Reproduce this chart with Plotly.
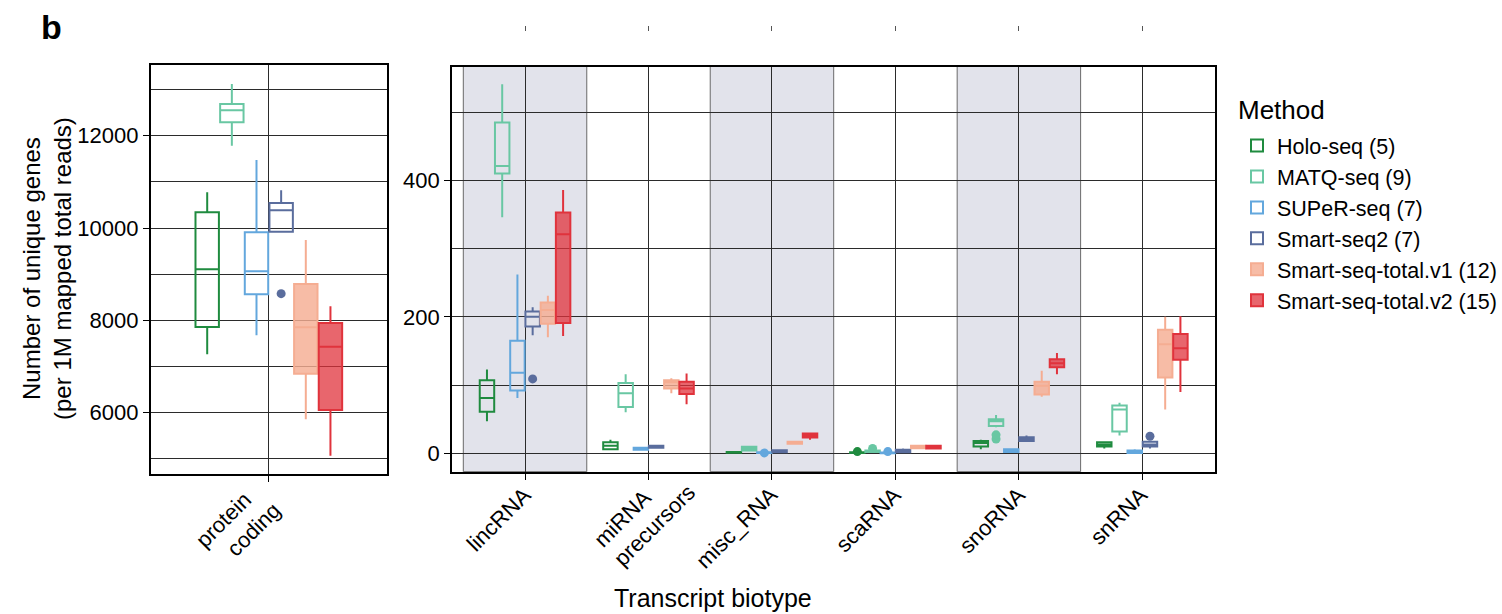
import plotly.graph_objects as go

W, H = 1502, 614

methods = ["Holo-seq (5)", "MATQ-seq (9)", "SUPeR-seq (7)", "Smart-seq2 (7)",
           "Smart-seq-total.v1 (12)", "Smart-seq-total.v2 (15)"]
line_colors = ["#1f8b3f", "#69c7a3", "#63a7dd", "#5a6d9d", "#f5ad92", "#e0333c"]
fill_colors = ["rgba(255,255,255,0)", "rgba(255,255,255,0)", "rgba(255,255,255,0)",
               "rgba(255,255,255,0)", "rgba(245,173,146,0.82)", "rgba(224,51,60,0.75)"]

protein_label = "protein<br>coding"
biotypes = ["lincRNA", "miRNA<br>precursors", "misc_RNA", "scaRNA", "snoRNA", "snRNA"]

# (lower whisker, Q1, median, Q3, upper whisker)
holo_protein = (7265, 7856, 9106, 10341, 10774)
matq_protein = (11783, 12290, 12550, 12687, 13120)
super_protein = (7677, 8565, 9063, 9907, 11474)
smart2_protein = (9900, 9921, 10384, 10542, 10817)
v1_protein = (5857, 6845, 7850, 8788, 9741)
v2_protein = (5069, 6059, 7430, 7943, 8305)

# per biotype in order of `biotypes`
holo_bio = [(47, 61, 81, 107, 123), (5, 6, 11, 16, 20), (0.5, 0.8, 1.2, 1.8, 2.2),
            (0, 0.5, 1, 1.5, 2), (6, 10, 15, 18, 20), (7, 10, 13, 16, 16)]
matq_bio = [(346, 410, 421, 485, 541), (60, 68, 88, 103, 116), (3, 4, 7, 9.5, 10),
            (1, 2, 3, 4, 5), (38, 40, 47, 50, 56), (26, 32, 64, 70, 74)]
super_bio = [(81, 92, 118, 165, 262), (5, 5, 7, 8, 8), (0, 0.5, 1, 1.5, 2),
             (0, 0, 0.5, 1, 1.5), (1.5, 2, 4, 6, 7), (0, 0.5, 2, 4, 6)]
smart2_bio = [(173, 186, 200, 208, 214), (7, 8, 10, 11, 12), (1, 1.5, 3, 4.5, 5),
              (1, 1.5, 3.5, 5, 7), (17, 18, 21, 23.5, 26), (7, 10, 13, 17, 17)]
v1_bio = [(170, 190, 210, 221, 231), (88, 95, 104, 107, 110), (14, 14, 15.5, 17, 17.5),
          (7, 7.5, 9.5, 11, 11.5), (83, 86, 99, 105, 121), (64, 111, 160, 181, 200)]
v2_bio = [(172, 191, 321, 353, 386), (72, 87, 95, 105, 117), (20, 23, 26, 29, 30),
          (7, 7, 9, 11, 11), (116, 126, 132, 138, 147), (90, 137, 154, 175, 201)]

# outlier points: (category, value)
holo_out = [("scaRNA", 2.5)]
matq_out = [("scaRNA", 7), ("snoRNA", 21), ("snoRNA", 27)]
super_out = [("misc_RNA", 0.5), ("scaRNA", 2.5)]
smart2_out = [(protein_label, 8578), ("lincRNA", 109), ("snRNA", 25)]
v1_out = []
v2_out = []

protein_stats = [holo_protein, matq_protein, super_protein, smart2_protein, v1_protein, v2_protein]
bio_stats = [holo_bio, matq_bio, super_bio, smart2_bio, v1_bio, v2_bio]
outliers = [holo_out, matq_out, super_out, smart2_out, v1_out, v2_out]

FONT = "Liberation Sans, Arial, Helvetica, sans-serif"

fig = go.Figure()


def add_box(m, cats, stats, xa, ya, legend):
    fig.add_trace(go.Box(
        x=cats,
        lowerfence=[s[0] for s in stats], q1=[s[1] for s in stats],
        median=[s[2] for s in stats], q3=[s[3] for s in stats],
        upperfence=[s[4] for s in stats],
        name=methods[m], legendgroup=methods[m], offsetgroup=methods[m],
        showlegend=legend, boxpoints=False,
        line=dict(color=line_colors[m], width=2), fillcolor=fill_colors[m],
        whiskerwidth=0, xaxis=xa, yaxis=ya))


for m in range(len(methods)):
    add_box(m, biotypes, bio_stats[m], "x2", "y2", True)
for m in range(len(methods)):
    add_box(m, [protein_label], [protein_stats[m]], "x", "y", False)

for m in range(len(methods)):
    for panel, (xa, ya) in (("left", ("x", "y")), ("right", ("x2", "y2"))):
        pts = [(c, v) for c, v in outliers[m] if (c == protein_label) == (panel == "left")]
        if not pts:
            continue
        fig.add_trace(go.Box(
            x=[c for c, _ in pts], y=[v for _, v in pts],
            name=methods[m], legendgroup=methods[m], offsetgroup=methods[m],
            showlegend=False, boxpoints="all", jitter=0, pointpos=0,
            line=dict(width=0, color=line_colors[m]), fillcolor="rgba(0,0,0,0)",
            marker=dict(color=line_colors[m], size=9),
            xaxis=xa, yaxis=ya))

# dummy trace so the stray top tick axis is drawn
fig.add_trace(go.Scatter(x=[None], y=[None], xaxis="x3", yaxis="y2",
                         showlegend=False, hoverinfo="skip"))

# alternating shaded bands
for i, _ in enumerate(biotypes):
    if i % 2 == 0:
        fig.add_shape(type="rect", xref="x2", yref="y2 domain", x0=i - 0.5, x1=i + 0.5,
                      y0=0, y1=1, fillcolor="#e2e3eb", line=dict(color="#6a6a6a", width=1),
                      layer="below")


def px_x(p):
    return p / W


def px_y(p):
    return 1 - p / H


# rotated category labels (each line as its own annotation, end of line near tick)
# offsets: (dx from tick in px, y of the line end in px)
default_line_end = [(4, 489)]
line_ends = {
    protein_label: [(-19, 494), (10, 504)],
    "miRNA<br>precursors": [(1, 492), (45, 487)],
}
CORNER = 9.5
annotations = []
for xref, cats in (("x", [protein_label]), ("x2", biotypes)):
    for c in cats:
        lines = c.split("<br>")
        ends = line_ends.get(c, default_line_end)
        for line, (dx, ye) in zip(lines, ends):
            annotations.append(dict(
                text=line, x=c, xref=xref, xshift=dx + CORNER,
                y=px_y(ye - CORNER), yref="paper", textangle=-45,
                xanchor="right", yanchor="top", showarrow=False,
                font=dict(size=22, family=FONT, color="black")))

annotations += [
    dict(text="<b>b</b>", x=px_x(52), y=px_y(27), xref="paper", yref="paper",
         showarrow=False, font=dict(size=34, family=FONT), xanchor="center", yanchor="middle"),
    dict(text="Number of unique genes<br>(per 1M mapped total reads)", textangle=-90,
         x=px_x(47), y=px_y(268), xref="paper", yref="paper", showarrow=False,
         font=dict(size=24, family=FONT), xanchor="center", yanchor="middle"),
    dict(text="Transcript biotype", x=px_x(713), y=px_y(598), xref="paper", yref="paper",
         showarrow=False, font=dict(size=25, family=FONT), xanchor="center", yanchor="middle"),
    dict(text="Method", x=px_x(1237), y=px_y(110), xref="paper", yref="paper",
         showarrow=False, font=dict(size=26, family=FONT), xanchor="left", yanchor="middle"),
]

grid = "#2b2b2b"
common_x = dict(type="category", showline=True, linecolor="black", linewidth=2, mirror=True,
                ticks="outside", ticklen=6, tickcolor="black", showticklabels=False,
                showgrid=True, gridcolor=grid, gridwidth=1)
common_y = dict(showline=True, linecolor="black", linewidth=2, mirror=True,
                ticks="outside", ticklen=6, tickcolor="black", zeroline=False,
                showgrid=True, gridcolor=grid, gridwidth=1,
                tickfont=dict(size=22, color="black", family=FONT))

fig.update_layout(
    width=W, height=H,
    margin=dict(l=0, r=0, t=0, b=0),
    paper_bgcolor="white", plot_bgcolor="white",
    font=dict(family=FONT, color="black"),
    boxmode="group", boxgap=0.26, boxgroupgap=0.05,
    xaxis=dict(domain=[px_x(151), px_x(387)], anchor="y", range=[-0.59, 0.59],
               categoryorder="array", categoryarray=[protein_label], **common_x),
    yaxis=dict(domain=[px_y(474), px_y(65)], anchor="x", range=[4672, 13531],
               tickvals=[6000, 8000, 10000, 12000], tickformat="d",
               minor=dict(dtick=1000, tick0=0, showgrid=True, gridcolor=grid, gridwidth=1, ticks=""),
               **common_y),
    xaxis2=dict(domain=[px_x(452.5), px_x(1216)], anchor="y2", range=[-0.59, 5.59],
                categoryorder="array", categoryarray=biotypes, **common_x),
    yaxis2=dict(domain=[px_y(471.7), px_y(66.5)], anchor="x2", range=[-27, 567],
                tickvals=[0, 200, 400],
                minor=dict(dtick=100, tick0=0, showgrid=True, gridcolor=grid, gridwidth=1, ticks=""),
                **common_y),
    xaxis3=dict(overlaying="x2", anchor="free", position=px_y(31), side="top",
                range=[-0.59, 5.59], tickvals=list(range(len(biotypes))),
                showticklabels=False, ticks="outside", ticklen=5, tickcolor="#555",
                showgrid=False, zeroline=False, showline=False),
    legend=dict(x=px_x(1238), y=px_y(125), xanchor="left", yanchor="top",
                font=dict(size=21.5, family=FONT), bgcolor="rgba(0,0,0,0)",
                tracegroupgap=0, itemwidth=30),
    annotations=annotations,
)

fig.write_html("out.html")
